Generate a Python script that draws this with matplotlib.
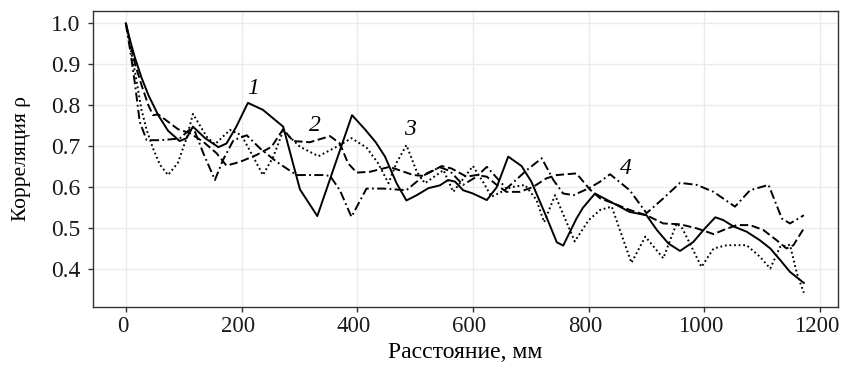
import matplotlib
matplotlib.use("Agg")
import matplotlib.pyplot as plt
from matplotlib.transforms import ScaledTranslation

plt.rcParams['font.family'] = ['Liberation Serif', 'DejaVu Serif']
plt.rcParams['lines.scale_dashes'] = False

# Series 1 (solid)
x1 = [0, 8, 16, 27, 39, 56, 73, 93, 105, 116, 137, 160, 174, 191, 211, 237, 272, 301, 331,
      391, 413, 432, 448, 468, 485, 503, 523, 543, 557, 569, 583, 600, 624, 641, 661, 684, 701,
      727, 745, 756, 779, 790, 811, 843, 871, 900, 918, 938, 958, 981, 1001, 1019, 1033, 1050,
      1073, 1096, 1114, 1131, 1148, 1172]
y1 = [1.0, 0.955, 0.915, 0.868, 0.825, 0.776, 0.738, 0.713, 0.72, 0.748, 0.72, 0.698, 0.707,
      0.748, 0.806, 0.789, 0.748, 0.595, 0.530,
      0.776, 0.742, 0.71, 0.675, 0.61, 0.568, 0.581, 0.598, 0.605, 0.618, 0.614, 0.593, 0.585,
      0.569, 0.60, 0.675, 0.652, 0.614,
      0.528, 0.466, 0.458, 0.524, 0.55, 0.585, 0.561, 0.540, 0.532, 0.496, 0.463, 0.445, 0.467,
      0.500, 0.527, 0.520, 0.505,
      0.492, 0.471, 0.451, 0.423, 0.394, 0.367]

# Series 2 (dashed)
x2 = [0, 8, 16, 27, 39, 47, 56, 90, 111, 134, 157, 174, 197, 226, 252, 272, 289, 318, 353,
      370, 384, 399, 422, 456, 497, 514, 546, 563, 589, 606, 624, 641, 658, 681, 704, 727, 745,
      779, 802, 820, 843, 871, 900, 929, 958, 987, 1016, 1033, 1056, 1079, 1102, 1125, 1142,
      1154, 1172]
y2 = [1.0, 0.95, 0.90, 0.85, 0.80, 0.776, 0.778, 0.742, 0.732, 0.711, 0.683, 0.653, 0.662,
      0.679, 0.699, 0.742, 0.713, 0.710, 0.725,
      0.707, 0.659, 0.636, 0.638, 0.650, 0.630, 0.628, 0.652, 0.646, 0.626, 0.630, 0.626,
      0.606, 0.589, 0.589, 0.601, 0.622, 0.630,
      0.634, 0.595, 0.573, 0.561, 0.545, 0.532, 0.512, 0.510, 0.500, 0.486, 0.496, 0.508,
      0.508, 0.496, 0.471, 0.451, 0.459, 0.500]

# Series 3 (dotted)
x3 = [0, 8, 16, 27, 36, 47, 59, 73, 90, 105, 116, 140, 154, 180, 200, 220, 237, 255, 272,
      301, 333, 370, 390, 416, 436, 454, 468, 485, 503, 517, 549, 566, 600, 618, 632, 665,
      690, 710, 723, 742, 776, 800, 820, 840, 854, 874, 898, 929, 952, 962, 995, 1016, 1039,
      1073, 1096, 1114, 1131, 1148, 1160, 1172]
y3 = [1.0, 0.94, 0.88, 0.79, 0.74, 0.695, 0.655, 0.630, 0.660, 0.72, 0.779, 0.723, 0.705,
      0.740, 0.727, 0.675, 0.630, 0.675, 0.738,
      0.699, 0.676, 0.703, 0.720, 0.697, 0.659, 0.61, 0.660, 0.703, 0.638, 0.610, 0.642,
      0.589, 0.652, 0.612, 0.577, 0.60,
      0.606, 0.569, 0.515, 0.581, 0.468, 0.52, 0.545, 0.553, 0.496, 0.416, 0.480, 0.427,
      0.512, 0.50, 0.406, 0.451, 0.459,
      0.459, 0.431, 0.402, 0.455, 0.46, 0.39, 0.343]

# Series 4 (dash-dot)
x4 = [0, 8, 16, 24, 36, 59, 93, 116, 134, 154, 168, 186, 209, 232, 261, 295, 341, 353, 370,
      390, 416, 445, 485, 520, 543, 560, 583, 606, 624, 658, 693, 719, 739, 756, 774, 802,
      820, 837, 871, 900, 929, 958, 987, 1016, 1053, 1079, 1111, 1134, 1148, 1172]
y4 = [1.0, 0.93, 0.85, 0.76, 0.715, 0.715, 0.719, 0.748, 0.683, 0.618, 0.667, 0.715, 0.727,
      0.695, 0.662, 0.630, 0.630, 0.628, 0.593,
      0.528, 0.597, 0.597, 0.593, 0.634, 0.649, 0.64, 0.606, 0.626, 0.65, 0.597, 0.642,
      0.671, 0.618, 0.585, 0.581, 0.599,
      0.614, 0.632, 0.593, 0.537, 0.573, 0.611, 0.606, 0.589, 0.553, 0.593, 0.606, 0.524,
      0.512, 0.532]

curve_labels = ["1", "2", "3", "4"]
label_pos = [(220, 0.840), (326, 0.752), (491, 0.742), (865, 0.645)]

x_ticks = [0, 200, 400, 600, 800, 1000, 1200]
y_ticks = [0.4, 0.5, 0.6, 0.7, 0.8, 0.9, 1.0]

fig = plt.figure(figsize=(8.41, 3.67), dpi=100)
ax = fig.add_axes([0.110, 0.1643, 0.8864, 0.8057])

lw = 1.4
ax.plot(x1, y1, color='black', lw=lw, linestyle='-')
ax.plot(x2, y2, color='black', lw=lw, linestyle=(0, (6, 2.6)))
ax.plot(x3, y3, color='black', lw=lw, linestyle=(0, (1.3, 2.0)))
ax.plot(x4, y4, color='black', lw=lw, linestyle=(0, (6.5, 2.4, 1.3, 2.4)))

for lab, (lx, ly) in zip(curve_labels, label_pos):
    ax.text(lx, ly, lab, fontsize=17, style='italic', ha='center', va='center')

ax.set_xlim(-57.6, 1231)
ax.set_ylim(0.309, 1.030)
ax.set_xticks(x_ticks)
ax.set_yticks(y_ticks)
ax.set_yticklabels([f"{v:.1f}" for v in y_ticks])
ax.grid(True, color='#ebebeb', linewidth=1.0)
ax.set_axisbelow(True)
for s in ax.spines.values():
    s.set_color('#333333')
    s.set_linewidth(1.0)
ax.tick_params(axis='both', which='major', length=3.6, width=1.0, color='#333333',
               labelcolor='#1a1a1a')
ax.tick_params(axis='x', labelsize=16.5, pad=3)
ax.tick_params(axis='y', labelsize=17, pad=5)
shift = ScaledTranslation(-0.035, 0, fig.dpi_scale_trans)
for lbl in ax.get_xticklabels():
    lbl.set_transform(lbl.get_transform() + shift)
ax.set_xlabel("Расстояние, мм", fontsize=17)
ax.set_ylabel("Корреляция ρ", fontsize=15.5)
ax.xaxis.set_label_coords(0.5, -0.118)
ax.yaxis.set_label_coords(-0.083, 0.5)

fig.savefig("out.png", dpi=100)
